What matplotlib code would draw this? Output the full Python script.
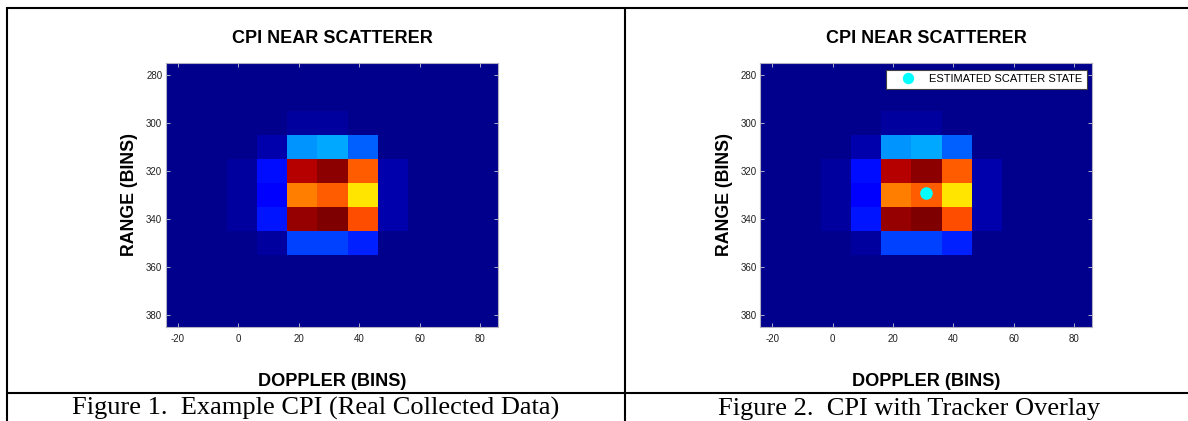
import numpy as np
import matplotlib
matplotlib.use("Agg")
import matplotlib.pyplot as plt
from matplotlib.lines import Line2D

plt.rcParams["axes.unicode_minus"] = False

# ---- data ----
doppler_centers = [-19, -9, 1, 11, 21, 31, 41, 51, 61, 71, 81]
range_centers = [280, 290, 300, 310, 320, 330, 340, 350, 360, 370, 380]
b = 0.015  # background intensity
intensity = [
    [b, b, b,    b,     b,     b,     b,     b,     b, b, b],   # 280
    [b, b, b,    b,     b,     b,     b,     b,     b, b, b],   # 290
    [b, b, b,    b,     0.03,  0.03,  b,     b,     b, b, b],   # 300
    [b, b, b,    0.04,  0.27,  0.29,  0.22,  b,     b, b, b],   # 310
    [b, b, 0.03, 0.14,  0.95,  0.985, 0.81,  0.04,  b, b, b],   # 320
    [b, b, 0.03, 0.11,  0.775, 0.81,  0.665, 0.04,  b, b, b],   # 330
    [b, b, 0.03, 0.145, 0.98,  1.0,   0.825, 0.04,  b, b, b],   # 340
    [b, b, b,    0.03,  0.19,  0.19,  0.16,  b,     b, b, b],   # 350
    [b, b, b,    b,     b,     b,     b,     b,     b, b, b],   # 360
    [b, b, b,    b,     b,     b,     b,     b,     b, b, b],   # 370
    [b, b, b,    b,     b,     b,     b,     b,     b, b, b],   # 380
]
x_ticks = [-20, 0, 20, 40, 60, 80]
y_ticks = [280, 300, 320, 340, 360, 380]
estimated_state = (30.8, 329.3)

title = "CPI NEAR SCATTERER"
xlabel = "DOPPLER (BINS)"
ylabel = "RANGE (BINS)"
captions = ["Figure 1.  Example CPI (Real Collected Data)",
            "Figure 2.  CPI with Tracker Overlay"]
legend_label = "ESTIMATED SCATTER STATE"

# ---- figure ----
W, H = 1188, 421
fig = plt.figure(figsize=(W / 100, H / 100), dpi=100)
fig.patch.set_facecolor("white")
sans = ["Liberation Sans", "DejaVu Sans"]
serif = ["Liberation Serif", "DejaVu Serif"]

Z = np.array(intensity)
dx = doppler_centers[1] - doppler_centers[0]
dy = range_centers[1] - range_centers[0]
extent = (doppler_centers[0] - dx / 2, doppler_centers[-1] + dx / 2,
          range_centers[-1] + dy / 2, range_centers[0] - dy / 2)


def px_rect(x0, x1, y0, y1):
    return [x0 / W, (H - y1) / H, (x1 - x0) / W, (y1 - y0) / H]


axes_px = [(165.7, 498.2, 63, 327), (760.1, 1092.4, 63, 327)]
axes = []
for i, r in enumerate(axes_px):
    ax = fig.add_axes(px_rect(*r))
    ax.imshow(Z, cmap="jet", vmin=0, vmax=1, extent=extent, aspect="auto",
              interpolation="nearest")
    ax.set_xticks(x_ticks)
    ax.set_yticks(y_ticks)
    ax.tick_params(direction="in", length=3, width=0.6, color="#c8c8d8",
                   top=True, right=True, labelsize=7, pad=5)
    ax.tick_params(axis="y", pad=2.5)
    for lab in ax.get_xticklabels() + ax.get_yticklabels():
        lab.set_family(sans)
        lab.set_color("#222222")
    for s in ax.spines.values():
        s.set_color("#b0b0c0")
        s.set_linewidth(0.8)
    ax.set_title(title, fontsize=13, fontweight="bold", family=sans,
                 y=1 + 16.3 / 264, va="center")
    ax.set_xlabel(xlabel, fontsize=13.1, fontweight="bold", family=sans,
                  va="center")
    ax.xaxis.set_label_coords(0.5, -54.7 / 264)
    ax.set_ylabel(ylabel, fontsize=12.8, fontweight="bold", family=sans,
                  va="center")
    ax.yaxis.set_label_coords(-(r[0] - (130 if i == 0 else 724.5)) / (r[1] - r[0]), 0.5)
    axes.append(ax)

# tracker overlay on the second panel
ax2 = axes[1]
ax2.plot([estimated_state[0]], [estimated_state[1]], linestyle="none",
         marker="o", markersize=8, color="#00ffff", markeredgecolor="#00ffff",
         label=legend_label)
leg = ax2.legend(loc="upper right", bbox_to_anchor=(1 - 5.7 / 332.3, 1 - 6.7 / 264),
                 borderaxespad=0, fancybox=False, framealpha=1,
                 edgecolor="#404040", handlelength=3.1, handletextpad=0.35,
                 prop={"family": sans, "size": 8}, borderpad=0.4,
                 markerscale=0.9)
leg.get_frame().set_linewidth(0.8)

# captions
fig.text(316 / W, (H - 414.5) / H, captions[0], family=serif, fontsize=19,
         ha="center", va="baseline")
fig.text(909 / W, (H - 414.5) / H, captions[1], family=serif, fontsize=19,
         ha="center", va="baseline")

# table rules
lw = 1.5
def hline(y, x0, x1):
    fig.add_artist(Line2D([x0 / W, x1 / W], [(H - y) / H] * 2, color="black",
                          lw=lw, solid_capstyle="butt"))
def vline(x, y0, y1):
    fig.add_artist(Line2D([x / W] * 2, [(H - y0) / H, (H - y1) / H], color="black",
                          lw=lw, solid_capstyle="butt"))

hline(7.7, 6.5, W)
hline(393, 6.5, W)
vline(7.3, 7, H)
vline(624.7, 7, H)

fig.savefig("out.png", dpi=100)
